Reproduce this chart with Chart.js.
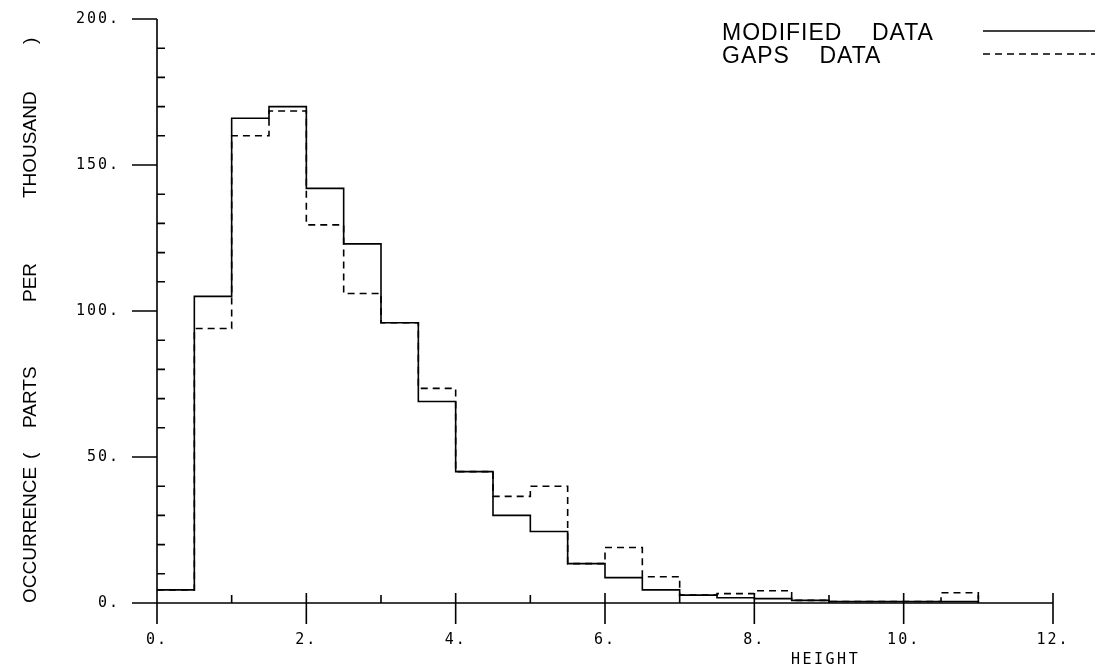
<!DOCTYPE html>
<html>
<head>
<meta charset="utf-8">
<script src="https://cdn.jsdelivr.net/npm/chart.js@4/dist/chart.umd.min.js"></script>
<style>
  html, body { margin: 0; padding: 0; background: #fff; }
  #wrap { width: 1108px; height: 668px; }
</style>
</head>
<body>
<div id="wrap"><canvas id="chart"></canvas></div>
<script>
// left edge of each 0.5-wide height bin
const binStarts = [0, 0.5, 1, 1.5, 2, 2.5, 3, 3.5, 4, 4.5, 5, 5.5,
                   6, 6.5, 7, 7.5, 8, 8.5, 9, 9.5, 10, 10.5];
const lastEdge = 11;

// occurrence, parts per thousand
const modifiedData = [4.5, 105, 166, 170, 142, 123, 96, 69, 45, 30, 24.5, 13.5,
                      8.7, 4.5, 2.7, 1.8, 1.5, 0.9, 0.5, 0.5, 0.5, 0.5];
const gapsData     = [4.5, 94, 160, 168.5, 129.5, 106, 96, 73.5, 45, 36.5, 40, 13.5,
                      19, 9, 2.7, 3.2, 4.2, 0.9, 0.5, 0.5, 0.5, 3.5];

const xMajor = [0, 2, 4, 6, 8, 10, 12];
const xMinor = [1, 3, 5, 7, 9, 11];
const yMajor = [0, 50, 100, 150, 200];
const yMinor = [10, 20, 30, 40, 60, 70, 80, 90, 110, 120, 130, 140, 160, 170, 180, 190];

const legendNames = ['MODIFIED    DATA', 'GAPS    DATA'];
// y title words and where each starts (px from top, text runs upward)
const yTitleWords = ['OCCURRENCE', '(', 'PARTS', 'PER', 'THOUSAND', ')'];
const yTitleStarts = [603, 459, 428, 302, 198, 44];

function toSteps(vals) {
    var pts = binStarts.map((x, i) => ({ x: x, y: vals[i] }));
    pts.push({ x: lastEdge, y: 0 });
    return pts;
}

const MONO = '"DejaVu Sans Mono", monospace';
const SANS = '"Liberation Sans", Arial, sans-serif';

// old pen-plotter style axes, ticks and labels
const plotterPlugin = {
    id: 'plotter',
    beforeDraw(chart) {
        chart.ctx.letterSpacing = '2px';
    },
    afterDraw(chart) {
        const ctx = chart.ctx;
        const xs = chart.scales.x, ys = chart.scales.y;
        const x0 = xs.getPixelForValue(0), y0 = ys.getPixelForValue(0);
        ctx.save();
        ctx.letterSpacing = '0px';
        ctx.strokeStyle = '#000';
        ctx.lineWidth = 1.6;
        ctx.setLineDash([]);
        ctx.beginPath();
        // axis lines
        ctx.moveTo(x0, ys.getPixelForValue(200));
        ctx.lineTo(x0, y0);
        ctx.moveTo(x0, y0);
        ctx.lineTo(xs.getPixelForValue(12), y0);
        yMajor.forEach(v => {
            const p = ys.getPixelForValue(v);
            ctx.moveTo(x0 - 25, p); ctx.lineTo(x0, p);
        });
        yMinor.forEach(v => {
            const p = ys.getPixelForValue(v);
            ctx.moveTo(x0, p); ctx.lineTo(x0 + 8, p);
        });
        xMajor.forEach(v => {
            const p = xs.getPixelForValue(v);
            ctx.moveTo(p, y0 - 10); ctx.lineTo(p, y0 + 21);
        });
        xMinor.forEach(v => {
            const p = xs.getPixelForValue(v);
            ctx.moveTo(p, y0 - 8); ctx.lineTo(p, y0);
        });
        ctx.stroke();

        // y axis title
        ctx.fillStyle = '#000';
        ctx.font = '19px ' + SANS;
        ctx.textAlign = 'left';
        ctx.textBaseline = 'alphabetic';
        yTitleWords.forEach((w, i) => {
            ctx.save();
            ctx.translate(36, yTitleStarts[i]);
            ctx.rotate(-Math.PI / 2);
            ctx.fillText(w, 0, 0);
            ctx.restore();
        });

        // x axis title
        ctx.font = '15px ' + MONO;
        ctx.letterSpacing = '2.5px';
        ctx.fillText('HEIGHT', 791, 664);

        // legend: name, then a line sample
        ctx.font = '23px ' + SANS;
        ctx.letterSpacing = '1px';
        chart.data.datasets.forEach((ds, i) => {
            const ly = 31 + i * 23;
            ctx.fillText(legendNames[i], 722, ly + 9);
            ctx.beginPath();
            ctx.lineWidth = 1.5;
            ctx.setLineDash(ds.borderDash || []);
            ctx.moveTo(983, ly);
            ctx.lineTo(1095, ly);
            ctx.stroke();
        });
        ctx.restore();
    }
};

new Chart(document.getElementById('chart'), {
    type: 'line',
    data: {
        datasets: [{
            label: legendNames[0],
            data: toSteps(modifiedData),
            stepped: 'before',
            borderColor: '#000',
            borderWidth: 1.6,
            pointRadius: 0,
            fill: false
        }, {
            label: legendNames[1],
            data: toSteps(gapsData),
            stepped: 'before',
            borderColor: '#000',
            borderWidth: 1.6,
            borderDash: [7, 5],
            pointRadius: 0,
            fill: false
        }]
    },
    options: {
        responsive: true,
        maintainAspectRatio: false,
        animation: false,
        layout: { padding: { top: 19, right: 55, left: 0, bottom: 0 } },
        plugins: { legend: { display: false }, tooltip: { enabled: false } },
        scales: {
            x: {
                type: 'linear',
                min: 0, max: 12,
                afterBuildTicks: s => { s.ticks = xMajor.map(v => ({ value: v })); },
                afterFit: s => { s.height = 65; },
                grid: { display: false, drawTicks: false },
                border: { display: false },
                ticks: {
                    color: '#000',
                    padding: 28,
                    maxRotation: 0,
                    font: { family: MONO, size: 15 },
                    callback: v => v + '.'
                }
            },
            y: {
                min: 0, max: 200,
                afterBuildTicks: s => { s.ticks = yMajor.map(v => ({ value: v })); },
                // tick padding also pads the top; undo that
                afterFit: s => { s.width = 157; s.paddingTop = 9; s.paddingBottom = 9; },
                grid: { display: false, drawTicks: false },
                border: { display: false },
                ticks: {
                    color: '#000',
                    padding: 37,
                    font: { family: MONO, size: 15 },
                    callback: v => v + '.'
                }
            }
        }
    },
    plugins: [plotterPlugin]
});
</script>
</body>
</html>
